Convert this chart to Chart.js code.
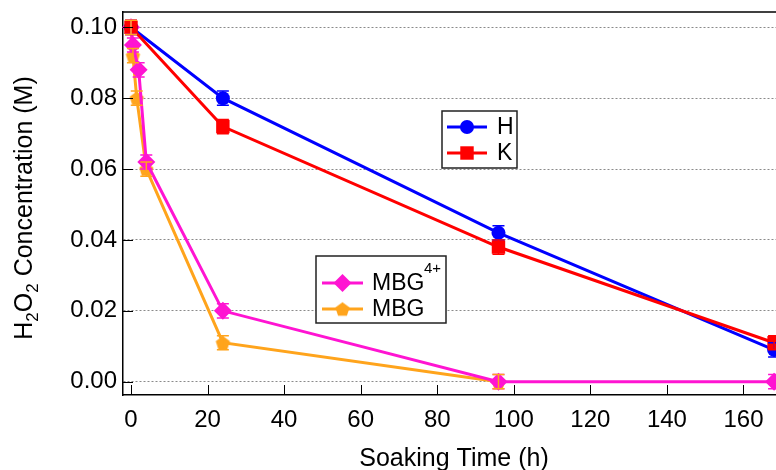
<!DOCTYPE html>
<html>
<head>
<meta charset="utf-8">
<script src="https://cdn.jsdelivr.net/npm/chart.js@4.4.1/dist/chart.umd.min.js"></script>
<style>
  html, body { margin: 0; padding: 0; background: #fff; }
</style>
</head>
<body>
<canvas id="chart" width="776" height="470"></canvas>
<script>
// data
const hTime = [0, 24, 96, 168];
const hConc = [0.100, 0.080, 0.042, 0.009];
const hErr = [0.002, 0.002, 0.002, 0.002];

const kTime = [0, 24, 96, 168];
const kConc = [0.100, 0.072, 0.038, 0.011];
const kErr = [0.002, 0.002, 0.002, 0.002];

const mbg4Time = [0, 0.5, 2, 4, 24, 96, 168];
const mbg4Conc = [0.100, 0.095, 0.088, 0.062, 0.020, 0.000, 0.000];
const mbg4Err = [0.002, 0.002, 0.002, 0.002, 0.002, 0.002, 0.002];

const mbgTime = [0, 0.5, 1.5, 4, 24, 96];
const mbgConc = [0.100, 0.092, 0.080, 0.060, 0.011, 0.000];
const mbgErr = [0.002, 0.002, 0.002, 0.002, 0.002, 0.002];

const xTicks = [0, 20, 40, 60, 80, 100, 120, 140, 160];
const yTicks = [0.00, 0.02, 0.04, 0.06, 0.08, 0.10];

const FONT = "'Liberation Sans', Arial, sans-serif";
const BLUE = '#0000ff', RED = '#ff0000', PINK = '#ff14d2', ORANGE = '#ffa41c';

// pentagon marker for MBG
function pentagon(color, r) {
  const c = document.createElement('canvas');
  c.width = c.height = Math.ceil(r * 2 + 2);
  const g = c.getContext('2d');
  g.fillStyle = color;
  g.beginPath();
  for (let i = 0; i < 5; i++) {
    const a = -Math.PI / 2 + i * 2 * Math.PI / 5;
    const px = c.width / 2 + r * Math.cos(a), py = c.height / 2 + r * Math.sin(a) + 0.8;
    i ? g.lineTo(px, py) : g.moveTo(px, py);
  }
  g.closePath();
  g.fill();
  return c;
}

function pts(xs, ys) { return xs.map((x, i) => ({ x: x, y: ys[i] })); }

function series(label, xs, ys, errs, color, style, radius, order) {
  return {
    label: label, data: pts(xs, ys), errors: errs,
    borderColor: color, backgroundColor: color,
    pointBackgroundColor: color, pointBorderColor: color,
    borderWidth: 3, pointStyle: style, pointRadius: radius, pointBorderWidth: 0,
    tension: 0, clip: false, order: order
  };
}

// error bars, inside tick marks, frame, titles, legends
const extras = {
  id: 'extras',
  afterDatasetsDraw(chart) {
    const ctx = chart.ctx, xs = chart.scales.x, ys = chart.scales.y;
    ctx.save();
    chart.data.datasets.forEach(ds => {
      ctx.strokeStyle = ds.borderColor;
      ctx.lineWidth = 1.5;
      ds.data.forEach((p, i) => {
        const e = ds.errors[i];
        const px = xs.getPixelForValue(p.x);
        const y1 = ys.getPixelForValue(p.y + e), y2 = ys.getPixelForValue(p.y - e);
        ctx.beginPath();
        ctx.moveTo(px, y1); ctx.lineTo(px, y2);
        ctx.moveTo(px - 6, y1); ctx.lineTo(px + 6, y1);
        ctx.moveTo(px - 6, y2); ctx.lineTo(px + 6, y2);
        ctx.stroke();
      });
    });
    ctx.restore();
  },
  afterDraw(chart) {
    const ctx = chart.ctx, a = chart.chartArea, xs = chart.scales.x, ys = chart.scales.y;
    ctx.save();
    ctx.strokeStyle = '#000';
    ctx.lineWidth = 1.5;
    ctx.beginPath();
    ctx.moveTo(a.left, a.top); ctx.lineTo(a.right, a.top);
    ctx.stroke();
    ctx.lineWidth = 1;
    ctx.beginPath();
    xTicks.forEach(v => {
      const px = Math.round(xs.getPixelForValue(v)) + 0.5;
      ctx.moveTo(px, a.bottom); ctx.lineTo(px, a.bottom - 10);
    });
    yTicks.forEach(v => {
      const py = Math.round(ys.getPixelForValue(v)) + 0.5;
      ctx.moveTo(a.left, py); ctx.lineTo(a.left + 10, py);
    });
    ctx.stroke();

    // axis titles
    ctx.fillStyle = '#000';
    ctx.font = '25px ' + FONT;
    ctx.textAlign = 'center';
    ctx.textBaseline = 'alphabetic';
    ctx.fillText('Soaking Time (h)', 454, 466);

    ctx.translate(32, 208);
    ctx.rotate(-Math.PI / 2);
    const parts = [['H', 0], ['2', 1], ['O', 0], ['2', 1], [' Concentration (M)', 0]];
    const big = '25px ' + FONT, small = '17px ' + FONT;
    let w = 0;
    parts.forEach(p => { ctx.font = p[1] ? small : big; w += ctx.measureText(p[0]).width; });
    let cx = -w / 2;
    ctx.textAlign = 'left';
    parts.forEach(p => {
      ctx.font = p[1] ? small : big;
      ctx.fillText(p[0], cx, p[1] ? 6 : 0);
      cx += ctx.measureText(p[0]).width;
    });
    ctx.restore();

    // legends
    const ds = chart.data.datasets;
    const box = (x, y, w, h) => {
      ctx.save();
      ctx.fillStyle = '#fff';
      ctx.fillRect(x, y, w, h);
      ctx.strokeStyle = '#222';
      ctx.lineWidth = 1.5;
      ctx.strokeRect(x, y, w, h);
      ctx.restore();
    };
    const row = (d, x1, x2, y, tx, label) => {
      ctx.save();
      ctx.strokeStyle = d.borderColor;
      ctx.lineWidth = 3;
      ctx.beginPath(); ctx.moveTo(x1, y); ctx.lineTo(x2, y); ctx.stroke();
      ctx.fillStyle = d.backgroundColor;
      Chart.helpers.drawPoint(ctx, { pointStyle: d.pointStyle, radius: d.pointRadius, rotation: 0, borderWidth: 0 }, (x1 + x2) / 2, y);
      ctx.fillStyle = '#000';
      ctx.font = '23px ' + FONT;
      ctx.textAlign = 'left';
      ctx.textBaseline = 'middle';
      ctx.fillText(label, tx, y + 1);
      ctx.restore();
    };
    box(442, 111, 75, 57);
    row(ds[0], 447, 487, 127, 497, ds[0].label);
    row(ds[1], 447, 487, 153, 497, ds[1].label);
    box(316, 256, 130, 67);
    row(ds[2], 322, 363, 283, 372, 'MBG');
    row(ds[3], 322, 363, 309, 372, ds[3].label);
    ctx.save();
    ctx.font = '15px ' + FONT;
    ctx.fillStyle = '#000';
    ctx.textBaseline = 'middle';
    ctx.fillText('4+', 424, 269);
    ctx.restore();
  }
};

new Chart(document.getElementById('chart'), {
  type: 'line',
  data: {
    datasets: [
      series('H', hTime, hConc, hErr, BLUE, 'circle', 7, 2),
      series('K', kTime, kConc, kErr, RED, 'rect', 9.5, 1),
      series('MBG4+', mbg4Time, mbg4Conc, mbg4Err, PINK, 'rectRot', 9, 3),
      series('MBG', mbgTime, mbgConc, mbgErr, ORANGE, pentagon(ORANGE, 7.5), 7, 4)
    ]
  },
  plugins: [extras],
  options: {
    responsive: false,
    devicePixelRatio: 1,
    animation: false,
    layout: { autoPadding: false, padding: { top: 12, right: 0, left: 0, bottom: 0 } },
    plugins: { legend: { display: false }, tooltip: { enabled: false } },
    scales: {
      x: {
        type: 'linear', min: -2.09, max: 168.5,
        afterFit: s => { s.height = 75; s.paddingLeft = 0; s.paddingRight = 0; },
        afterBuildTicks: s => { s.ticks = xTicks.map(v => ({ value: v })); },
        grid: { display: false, drawTicks: false },
        border: { display: true, color: '#000', width: 1.5 },
        ticks: { color: '#000', padding: 11, font: { family: FONT, size: 24 }, maxRotation: 0 }
      },
      y: {
        type: 'linear', min: -0.00375, max: 0.10432,
        afterFit: s => { s.width = 123; s.paddingTop = 0; s.paddingBottom = 0; },
        afterBuildTicks: s => { s.ticks = yTicks.map(v => ({ value: v })); },
        grid: { display: true, drawTicks: false, color: '#8a8a8a', lineWidth: 1 },
        border: { display: true, color: '#000', width: 1.5, dash: [2, 2] },
        ticks: {
          color: '#000', padding: 6, font: { family: FONT, size: 24 },
          callback: v => v.toFixed(2)
        }
      }
    }
  }
});
</script>
</body>
</html>
